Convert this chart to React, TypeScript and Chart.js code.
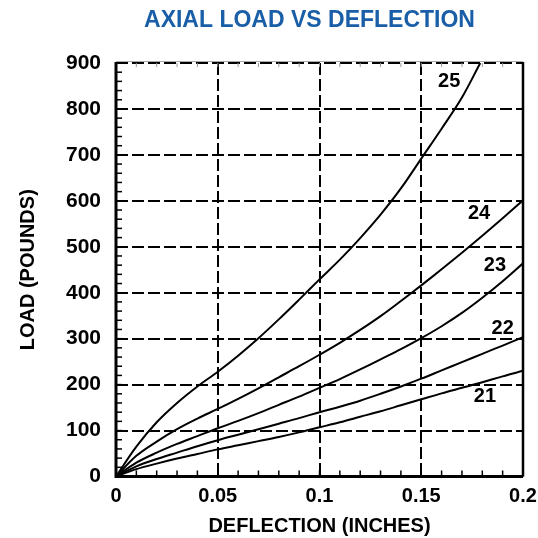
import React, { useEffect, useRef } from "react";
import { Chart, registerables } from "chart.js";

Chart.register(...registerables);

const deflection = [0, 0.01, 0.02, 0.03, 0.04, 0.05, 0.06, 0.07, 0.08, 0.09, 0.1, 0.11, 0.12, 0.13, 0.14, 0.15, 0.16, 0.17, 0.18, 0.19, 0.2];
const deflection25 = [0, 0.01, 0.02, 0.03, 0.04, 0.05, 0.06, 0.07, 0.08, 0.09, 0.1, 0.11, 0.12, 0.13, 0.14, 0.15, 0.16, 0.17, 0.179];

const load21 = [0, 16, 28, 39, 49, 59, 68, 77, 86, 96, 107, 118, 130, 142, 155, 168, 181, 193, 205, 218, 230];
const load22 = [0, 22, 38, 52, 66, 79, 91, 103, 115, 127, 140, 152, 165, 180, 196, 213, 231, 249, 267, 285, 303];
const load23 = [0, 30, 52, 71, 88, 105, 121, 138, 156, 174, 193, 212, 233, 255, 277, 301, 327, 356, 389, 425, 464];
const load24 = [0, 45, 76, 103, 126, 147, 169, 192, 216, 240, 265, 291, 319, 349, 382, 416, 451, 487, 524, 562, 601];
const load25 = [0, 65, 118, 160, 196, 228, 263, 301, 342, 385, 429, 472, 519, 570, 627, 692, 757, 825, 900];

const seriesNames = ["21", "22", "23", "24", "25"];
const labelX = [0.1813, 0.19, 0.1862, 0.1784, 0.1637];
const labelY = [174, 323, 460, 573, 859];

const xTicks = [0, 0.05, 0.1, 0.15, 0.2];
const xTickLabels = ["0", "0.05", "0.1", "0.15", "0.2"];

const TITLE = "AXIAL LOAD VS DEFLECTION";
const X_TITLE = "DEFLECTION (INCHES)";
const Y_TITLE = "LOAD (POUNDS)";

const FONT = "'Liberation Sans', Arial, sans-serif";

function pts(xs: number[], ys: number[]) {
  return xs.map((x, i) => ({ x, y: ys[i] }));
}

export default function App() {
  const ref = useRef<HTMLCanvasElement | null>(null);

  useEffect(() => {
    document.body.style.margin = "0";
    const canvas = ref.current;
    if (!canvas) return;

    const decor = {
      id: "decor",
      afterDatasetsDraw(chart: any) {
        const { ctx, chartArea: a, scales } = chart;
        const xs = scales.x;
        const ys = scales.y;
        ctx.save();
        // minor ticks
        ctx.strokeStyle = "#000";
        ctx.lineWidth = 1.5;
        for (let v = 0; v <= 900; v += 20) {
          const py = ys.getPixelForValue(v);
          ctx.beginPath();
          ctx.moveTo(a.left, py);
          ctx.lineTo(a.left + 6, py);
          ctx.stroke();
        }
        for (let i = 0; i <= 20; i++) {
          const px = xs.getPixelForValue(i / 100);
          ctx.beginPath();
          ctx.moveTo(px, a.bottom);
          ctx.lineTo(px, a.bottom - 6);
          ctx.stroke();
        }
        ctx.strokeStyle = "#999";
        ctx.lineWidth = 1;
        for (let i = 0; i <= 20; i++) {
          const px = xs.getPixelForValue(i / 100);
          ctx.beginPath();
          ctx.moveTo(px, a.top);
          ctx.lineTo(px, a.top + 4);
          ctx.stroke();
        }
        // frame
        ctx.strokeStyle = "#aaa";
        ctx.lineWidth = 1;
        ctx.beginPath();
        ctx.moveTo(a.left, a.top - 1.5);
        ctx.lineTo(a.right, a.top - 1.5);
        ctx.stroke();
        ctx.strokeStyle = "#000";
        ctx.lineWidth = 3;
        ctx.beginPath();
        ctx.moveTo(a.left, a.top - 1);
        ctx.lineTo(a.left, a.bottom);
        ctx.lineTo(a.right, a.bottom);
        ctx.stroke();
        ctx.lineWidth = 2.5;
        ctx.beginPath();
        ctx.moveTo(a.right, a.top - 1);
        ctx.lineTo(a.right, a.bottom);
        ctx.stroke();
        // curve labels
        ctx.fillStyle = "#000";
        ctx.font = `bold 20px ${FONT}`;
        ctx.textAlign = "center";
        ctx.textBaseline = "middle";
        seriesNames.forEach((n, i) => {
          ctx.fillText(n, xs.getPixelForValue(labelX[i]), ys.getPixelForValue(labelY[i]));
        });
        // title
        ctx.fillStyle = "#1a5ea8";
        ctx.font = `bold 23px ${FONT}`;
        ctx.fillText(TITLE, 309.5, 21);
        ctx.restore();
      },
    };

    const line = (data: { x: number; y: number }[], name: string) => ({
      label: name,
      data,
      showLine: true,
      borderColor: "#000",
      borderWidth: 2,
      pointRadius: 0,
      fill: false,
      tension: 0.35,
    });

    const chart = new Chart(canvas, {
      type: "scatter",
      data: {
        datasets: [
          line(pts(deflection, load21), seriesNames[0]),
          line(pts(deflection, load22), seriesNames[1]),
          line(pts(deflection, load23), seriesNames[2]),
          line(pts(deflection, load24), seriesNames[3]),
          line(pts(deflection25, load25), seriesNames[4]),
        ],
      },
      options: {
        animation: false,
        responsive: false,
        layout: { padding: { top: 63, right: 15, bottom: 0, left: 0 } },
        plugins: {
          legend: { display: false },
          tooltip: { enabled: false },
          title: { display: false },
        },
        scales: {
          x: {
            type: "linear",
            min: 0,
            max: 0.2,
            afterBuildTicks: (s: any) => {
              s.ticks = xTicks.map((v) => ({ value: v }));
            },
            afterFit: (s: any) => {
              s.height = 61.5;
              s.paddingRight = 0;
              s.paddingLeft = 0;
            },
            grid: { color: "#000", lineWidth: 2, drawTicks: false },
            border: { display: false, dash: [12, 4] },
            ticks: {
              color: "#000",
              padding: 8,
              maxRotation: 0,
              autoSkip: false,
              font: { family: FONT, size: 20, weight: "bold" },
              callback: (v: any) => {
                const i = xTicks.indexOf(Number(v));
                return i >= 0 ? xTickLabels[i] : "";
              },
            },
            title: {
              display: true,
              text: X_TITLE,
              color: "#000",
              padding: { top: 0, bottom: 0 },
              font: { family: FONT, size: 20, weight: "bold" },
            },
          },
          y: {
            type: "linear",
            min: 0,
            max: 900,
            afterFit: (s: any) => {
              s.width = 116;
              s.paddingTop = 0;
              s.paddingBottom = 0;
            },
            grid: { color: "#000", lineWidth: 2, drawTicks: false },
            border: { display: false, dash: [12, 4] },
            ticks: {
              stepSize: 100,
              color: "#000",
              padding: 15,
              font: { family: FONT, size: 21, weight: "bold" },
            },
            title: {
              display: true,
              text: Y_TITLE,
              color: "#000",
              padding: { top: 16, bottom: 0 },
              font: { family: FONT, size: 20, weight: "bold" },
            },
          },
        },
      },
      plugins: [decor],
    } as any);

    return () => chart.destroy();
  }, []);

  return <canvas ref={ref} width={538} height={538} style={{ display: "block" }} />;
}
